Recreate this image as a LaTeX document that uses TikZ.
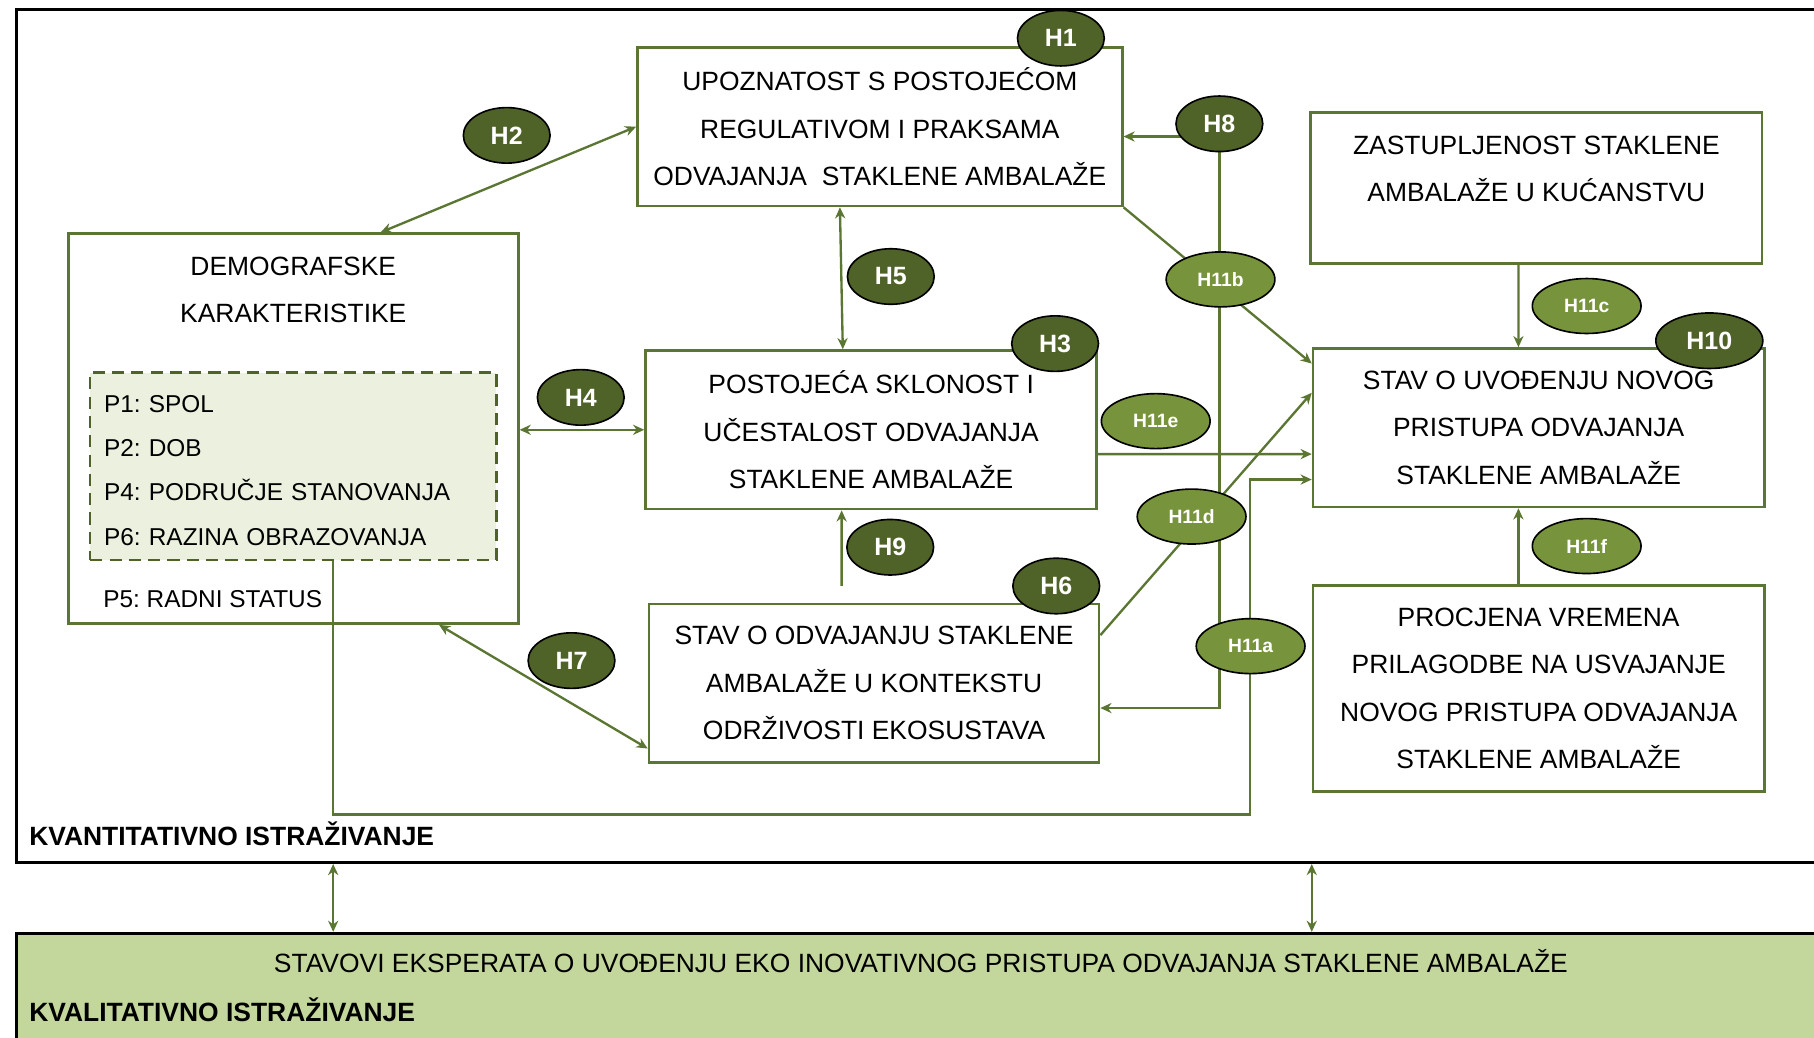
\documentclass[tikz,border=0pt]{standalone}
\usepackage{fontspec}
\setmainfont{Liberation Sans}
\usepackage{tikz}
\usetikzlibrary{arrows.meta,shapes.geometric}
\usetikzlibrary{positioning}
\frenchspacing
\definecolor{boxgreen}{HTML}{5B7633}
\definecolor{hypdark}{HTML}{4F6228}
\definecolor{hyplight}{HTML}{77933C}
\definecolor{qualfill}{HTML}{C3D69B}
\definecolor{grpfill}{HTML}{EBF1DE}
\newcommand{\boxfont}{\fontsize{13}{23.3}\selectfont}
\newcommand{\grpfont}{\fontsize{12}{21.7}\selectfont}
\tikzset{
    studyframe/.style={
           rectangle,
           draw=black, line width=1.3pt,
           inner sep=0pt,
           },
    varbox/.style={
           rectangle,
           draw=boxgreen, line width=1.3pt,
           fill=white,
           inner sep=0pt,
           align=center,
           font=\boxfont,
           },
    lbl/.style={
           inner sep=0pt,
           font=\boxfont,
           },
    hyp/.style={
           ellipse,
           draw=black, line width=0.8pt,
           fill=hypdark,
           text=white,
           inner sep=0pt,
           minimum width=1.5cm,
           minimum height=0.96cm,
           font=\fontsize{12.3}{14}\selectfont\bfseries,
           },
    subhyp/.style={
           hyp,
           fill=hyplight,
           minimum width=1.88cm,
           minimum height=0.95cm,
           font=\fontsize{9.5}{11}\selectfont\bfseries,
           },
    link/.style={
           draw=boxgreen, line width=1.15pt,
           },
}

\begin{document}
\begin{tikzpicture}[>={Stealth[length=5.5pt,width=5pt]}]
        % picture frame, all outside is cut off
        \clip (0,0) rectangle (31.36,-17.94);

        % FRAME quantitative part
        \node[studyframe,
            minimum width=31.6cm,
            minimum height=14.75cm,
            anchor=north west] (E_QUANT) at (0.26,-0.14) {};

        % FRAME qualitative part
        \node[studyframe,
            fill=qualfill,
            minimum width=31.6cm,
            minimum height=3cm,
            anchor=north west] (E_QUAL) at (0.26,-16.11) {};

        % BOX UPOZNATOST (top middle)
        \node[varbox,
            minimum width=8.38cm,
            minimum height=2.74cm] (E_UPOZ) at (15.21,-2.19)
        {UPOZNATOST S POSTOJEĆOM\\
         REGULATIVOM I PRAKSAMA\\
         ODVAJANJA~ STAKLENE AMBALAŽE};

        % BOX POSTOJECA below UPOZNATOST
        \node[varbox,
            minimum width=7.80cm,
            minimum height=2.74cm,
            below of=E_UPOZ,
            node distance=5.24cm,
            xshift=-0.15cm,
            anchor=center] (E_POST)
        {POSTOJEĆA SKLONOST I\\
         UČESTALOST ODVAJANJA\\
         STAKLENE AMBALAŽE};

        % BOX ODRZIVOST below POSTOJECA
        \node[varbox,
            minimum width=7.78cm,
            minimum height=2.74cm,
            below of=E_POST,
            node distance=4.38cm,
            xshift=0.05cm,
            anchor=center] (E_ODRZ)
        {STAV O ODVAJANJU STAKLENE\\
         AMBALAŽE U KONTEKSTU\\
         ODRŽIVOSTI EKOSUSTAVA};

        % BOX DEMOGRAFSKE left of POSTOJECA
        \node[varbox,
            minimum width=7.78cm,
            minimum height=6.74cm,
            left of=E_POST,
            node distance=9.99cm,
            yshift=0.02cm,
            anchor=center] (E_DEMO) {};
        \node[lbl, align=center,
            below=0.42cm of E_DEMO.north] (E_DEMOTXT)
        {DEMOGRAFSKE\\KARAKTERISTIKE};

        % dashed group of P1..P6
        \node[rectangle,
            draw=hypdark, line width=1.2pt,
            dash pattern=on 6pt off 3.5pt,
            fill=grpfill,
            minimum width=7.02cm,
            minimum height=3.24cm,
            text width=6.54cm,
            inner xsep=0.24cm,
            align=left,
            font=\grpfont] (E_PGRP) at (5.07,-8.06)
        {\rule{0pt}{0.44cm}P1: SPOL\\
         P2: DOB\\
         P4: PODRUČJE STANOVANJA\\
         P6: RAZINA OBRAZOVANJA};
        \node[lbl, font=\grpfont, anchor=base west] (E_P5) at (1.78,-10.50) {P5: RADNI STATUS};
        \coordinate (E_PLINK) at ([xshift=0.69cm]E_PGRP.south);

        % BOX ZASTUPLJENOST (top right)
        \node[varbox,
            minimum width=7.80cm,
            minimum height=2.62cm,
            right of=E_UPOZ,
            node distance=11.35cm,
            yshift=-1.06cm,
            anchor=center] (E_ZAST) {};
        \node[lbl, align=center,
            below=0.42cm of E_ZAST.north] (E_ZASTTXT)
        {ZASTUPLJENOST STAKLENE\\AMBALAŽE U KUĆANSTVU};

        % BOX NOVI PRISTUP
        \node[varbox,
            minimum width=7.80cm,
            minimum height=2.74cm,
            below of=E_ZAST,
            node distance=4.145cm,
            xshift=0.04cm,
            anchor=center] (E_NOVI)
        {STAV O UVOĐENJU NOVOG\\
         PRISTUPA ODVAJANJA\\
         STAKLENE AMBALAŽE};

        % BOX PROCJENA
        \node[varbox,
            minimum width=7.80cm,
            minimum height=3.56cm,
            below of=E_NOVI,
            node distance=4.505cm,
            anchor=center] (E_PROC)
        {PROCJENA VREMENA\\
         PRILAGODBE NA USVAJANJE\\
         NOVOG PRISTUPA ODVAJANJA\\
         STAKLENE AMBALAŽE};

        % frame labels
        \node[lbl, anchor=base west] (E_QUANTLBL) at (0.50,-14.62) {\bfseries KVANTITATIVNO ISTRAŽIVANJE};
        \node[lbl, anchor=base west] (E_QUALLBL) at (0.50,-17.66) {\bfseries KVALITATIVNO ISTRAŽIVANJE};
        \node[lbl, anchor=base] (E_QUALTXT) at (15.92,-16.82)
        {STAVOVI EKSPERATA O UVOĐENJU EKO INOVATIVNOG PRISTUPA ODVAJANJA STAKLENE AMBALAŽE};

        % hypothesis positions used by the lines
        \coordinate (E_H8POS) at (21.08,-2.14);
        \coordinate (E_CORNER) at (21.61,-14.08);

        % draw the straight links
        \path[link]
            (E_UPOZ.west)                       edge[<->] ([xshift=1.51cm]E_DEMO.north)
            ([xshift=-0.69cm]E_UPOZ.south)      edge[<->] ([xshift=-0.49cm]E_POST.north)
            (E_DEMO.east |- E_POST.west)        edge[<->] (E_POST.west)
            ([xshift=-0.56cm,yshift=0.29cm]E_ODRZ.north) edge[->] ([xshift=-0.51cm]E_POST.south)
            ([xshift=2.52cm]E_DEMO.south)       edge[<->] ([yshift=-1.13cm]E_ODRZ.west)
            ([yshift=-0.22cm]E_H8POS)           edge[->]  ([yshift=-0.22cm]E_H8POS -| E_UPOZ.east)
            (E_UPOZ.south east)                 edge[->]  ([yshift=1.11cm]E_NOVI.west)
            ([xshift=-0.31cm]E_ZAST.south)      edge[->]  ([xshift=-0.35cm]E_NOVI.north)
            ([xshift=-0.35cm]E_PROC.north)      edge[->]  ([xshift=-0.35cm]E_NOVI.south)
            ([yshift=-0.42cm]E_POST.east)       edge[->]  ([yshift=-0.455cm]E_NOVI.west)
            ([yshift=0.83cm]E_ODRZ.east)        edge[->]  ([yshift=0.605cm]E_NOVI.west)
            (E_PLINK |- E_QUANT.south)          edge[<->] (E_PLINK |- E_QUAL.north)
            (E_PROC.west |- E_QUANT.south)      edge[<->] (E_PROC.west |- E_QUAL.north)
            ;

        % draw the bent links
        \draw[link,->] (E_H8POS) |- ([yshift=-0.43cm]E_ODRZ.east);
        \draw[link,->] (E_PLINK) |- (E_CORNER) |- ([yshift=-0.895cm]E_NOVI.west);

        % hypotheses on top
        \node[hyp] (E_H1) at (18.34,-0.66) {H1};
        \node[hyp] (E_H2) at (8.76,-2.34) {H2};
        \node[hyp] (E_H8) at (E_H8POS) {H8};
        \node[hyp] (E_H5) at (15.40,-4.78) {H5};
        \node[hyp] (E_H3) at (18.24,-5.94) {H3};
        \node[hyp] (E_H4) at (10.04,-6.87) {H4};
        \node[hyp] (E_H9) at (15.39,-9.46) {H9};
        \node[hyp] (E_H6) at (18.26,-10.13) {H6};
        \node[hyp] (E_H7) at (9.88,-11.42) {H7};
        \node[hyp, minimum width=1.85cm] (E_H10) at (29.55,-5.89) {H10};

        \node[subhyp] (E_H11b) at (21.10,-4.83) {H11b};
        \node[subhyp] (E_H11c) at (27.43,-5.29) {H11c};
        \node[subhyp] (E_H11e) at (19.98,-7.28) {H11e};
        \node[subhyp] (E_H11d) at (20.60,-8.93) {H11d};
        \node[subhyp] (E_H11a) at (21.62,-11.17) {H11a};
        \node[subhyp] (E_H11f) at (27.43,-9.44) {H11f};

\end{tikzpicture}
\end{document}
